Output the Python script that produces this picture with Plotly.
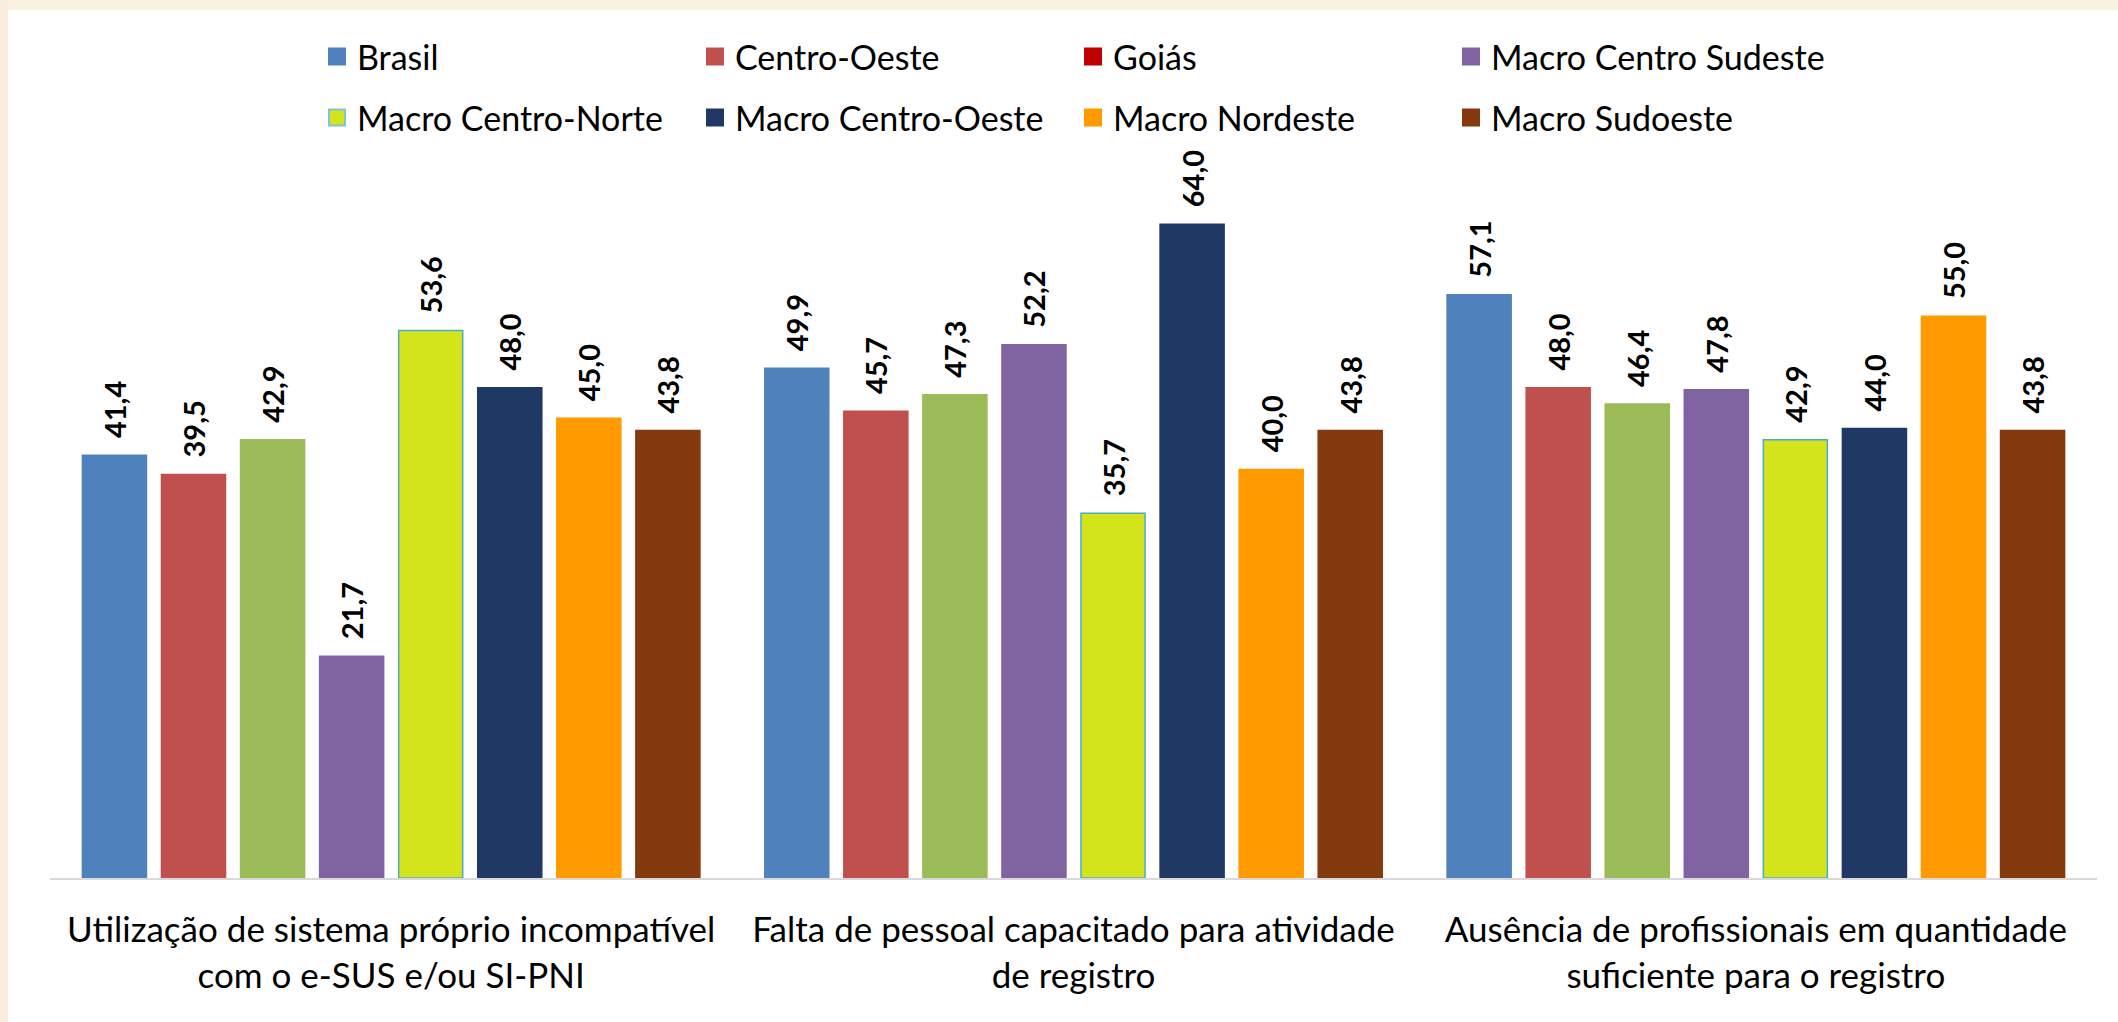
import plotly.graph_objects as go

categories = [
    "Utilização de sistema próprio incompatível<br>com o e-SUS e/ou SI-PNI",
    "Falta de pessoal capacitado para atividade<br>de registro",
    "Ausência de profissionais em quantidade<br>suficiente para o registro",
]

series_names = ["Brasil", "Centro-Oeste", "Goiás", "Macro Centro Sudeste",
                "Macro Centro-Norte", "Macro Centro-Oeste", "Macro Nordeste", "Macro Sudoeste"]

brasil = [41.4, 49.9, 57.1]
centro_oeste = [39.5, 45.7, 48.0]
goias = [42.9, 47.3, 46.4]
macro_centro_sudeste = [21.7, 52.2, 47.8]
macro_centro_norte = [53.6, 35.7, 42.9]
macro_centro_oeste = [48.0, 64.0, 44.0]
macro_nordeste = [45.0, 40.0, 55.0]
macro_sudoeste = [43.8, 43.8, 43.8]

values = [brasil, centro_oeste, goias, macro_centro_sudeste,
          macro_centro_norte, macro_centro_oeste, macro_nordeste, macro_sudoeste]

bar_colors = ["#4F81BD", "#C0504D", "#9BBB59", "#8064A2",
              "#D4E41C", "#203864", "#FF9A00", "#85390E"]
legend_colors = ["#4F81BD", "#C0504D", "#C00000", "#8064A2",
                 "#D4E41C", "#203864", "#FF9A00", "#85390E"]
line_colors = ["#4F81BD", "#C0504D", "#9BBB59", "#8064A2",
               "#4BACC6", "#203864", "#FF9A00", "#85390E"]

W, H = 2118, 1022
ML, MR, MT, MB = 50, 21, 163, 144
pw = W - ML - MR
ph = H - MT - MB
CREAM = "#F9F1E2"

fig = go.Figure()

for name, vals, col, lc in zip(series_names, values, bar_colors, line_colors):
    fig.add_trace(go.Bar(
        x=categories, y=vals, name=name, showlegend=False,
        marker=dict(color=col, line=dict(color=lc, width=1.5)),
        texttemplate="\u00a0\u00a0%{y:.1f}",
        textposition="outside", textangle=-90,
        textfont=dict(family="Lato", size=29, color="#000000", weight="bold"),
        constraintext="none", cliponaxis=False,
    ))

for i, (name, col) in enumerate(zip(series_names, legend_colors)):
    lc = "#7FC4DA" if name == "Macro Centro-Norte" else col
    fig.add_trace(go.Scatter(
        x=[None], y=[None], mode="markers", name=name,
        marker=dict(symbol="square", size=20, color=col, line=dict(color=lc, width=2)),
        legend="legend" if i < 4 else "legend2",
        showlegend=True,
    ))

def px_to_py(py):
    return (H - MB - py) / ph

def px_to_px(px):
    return (px - ML) / pw

legend_common = dict(
    orientation="h", xanchor="left", yanchor="middle",
    font=dict(family="Lato", size=34, color="#000000"),
    entrywidth=333, entrywidthmode="pixels",
    itemsizing="trace", bgcolor="rgba(0,0,0,0)", traceorder="normal",
)

fig.update_layout(
    width=W, height=H,
    margin=dict(l=ML, r=MR, t=MT, b=MB),
    paper_bgcolor="#FFFFFF",
    plot_bgcolor="#FFFFFF",
    separators=",.",
    barmode="group",
    bargap=0.073,
    bargroupgap=0.19,
    font=dict(family="Lato", color="#000000"),
    legend=dict(x=px_to_px(317), y=px_to_py(57), **legend_common),
    legend2=dict(x=px_to_px(317), y=px_to_py(118), **legend_common),
    xaxis=dict(
        showline=True, linecolor="#D9D9D9", linewidth=2,
        showgrid=False, ticks="", ticklabelstandoff=20,
        tickfont=dict(family="Lato", size=35, color="#000000"),
        zeroline=False,
    ),
    yaxis=dict(range=[0, 70], visible=False, showgrid=False, zeroline=False),
    shapes=[
        dict(type="rect", xref="paper", yref="paper", layer="below",
             x0=px_to_px(-5), x1=px_to_px(W + 5),
             y0=px_to_py(10), y1=px_to_py(-5),
             fillcolor=CREAM, line=dict(width=0)),
        dict(type="rect", xref="paper", yref="paper", layer="below",
             x0=px_to_px(-5), x1=px_to_px(8),
             y0=px_to_py(H + 5), y1=px_to_py(-5),
             fillcolor="#FBEEE0", line=dict(width=0)),
    ],
)

fig.write_html(
    "out.html",
    config={"displayModeBar": False},
    post_script="document.body.style.margin='0';document.body.style.overflow='hidden';",
)
